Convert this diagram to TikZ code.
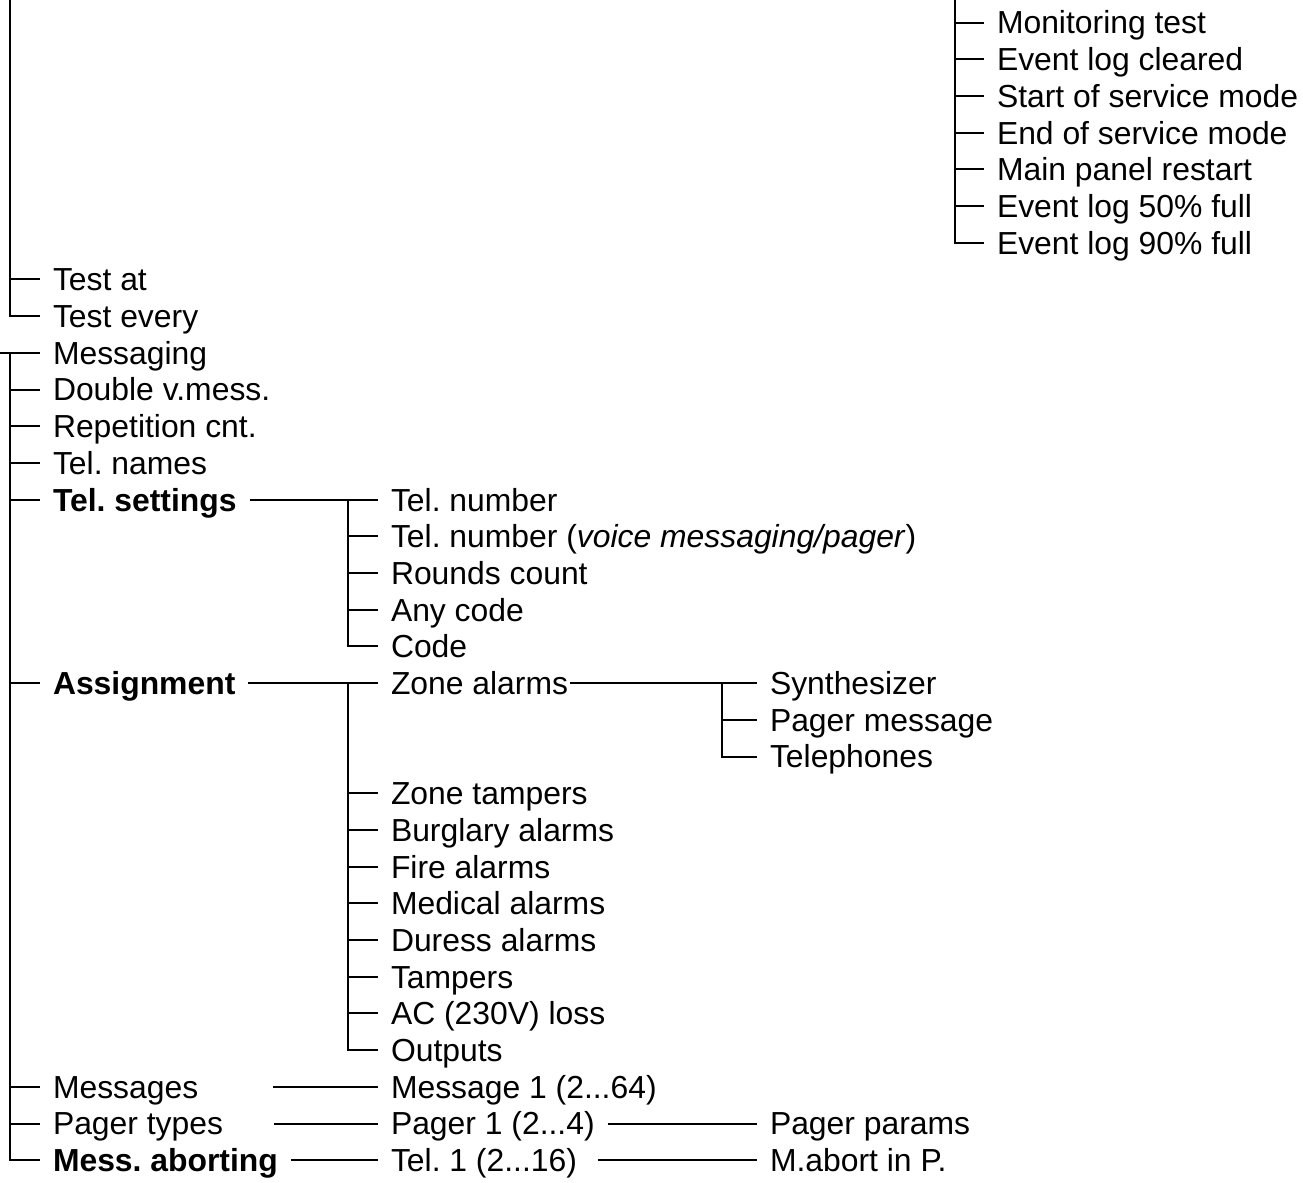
\documentclass[tikz,border=0pt]{standalone}
\usepackage{fontspec}
\setmainfont{Liberation Sans}
\frenchspacing

\tikzset{
  menu/.style={anchor=west, inner xsep=9pt, inner ysep=0pt, text height=17.1pt, text depth=0pt, font=\fontsize{23.9}{28}\selectfont},
  bmenu/.style={menu, font=\fontsize{23.9}{28}\selectfont\bfseries},
}

\begin{document}
\begin{tikzpicture}[x=0.75pt, y=-27.525pt, line width=1.5pt]
\useasboundingbox (0,-0.613) rectangle (1303,31.594);

% events (top right)
\coordinate (evtop) at (955,-0.613);
\node[menu] (ev0) at (984,0) {Monitoring test};
\node[menu] (ev1) at (984,1) {Event log cleared};
\node[menu] (ev2) at (984,2) {Start of service mode};
\node[menu] (ev3) at (984,3) {End of service mode};
\node[menu] (ev4) at (984,4) {Main panel restart};
\node[menu] (ev5) at (984,5) {Event log 50\% full};
\node[menu] (ev6) at (984,6) {Event log 90\% full};
\draw (evtop) |- (ev6.west);
\foreach \i in {0,...,5} \draw (evtop |- ev\i.west) -- (ev\i.west);

% test
\coordinate (testtop) at (10,-0.613);
\node[menu] (testat) at (40,7) {Test at};
\node[menu] (testevery) at (40,8) {Test every};
\draw (testtop) |- (testevery.west);
\draw (testtop |- testat.west) -- (testat.west);

% messaging
\coordinate (mainstart) at (0,9);
\coordinate (trunk) at (10,9);
\node[menu] (messaging) at (40,9) {Messaging};
\node[menu] (doublev) at (40,10) {Double v.mess.};
\node[menu] (repcnt) at (40,11) {Repetition cnt.};
\node[menu] (telnames) at (40,12) {Tel. names};
\node[bmenu] (telset) at (40,13) {Tel. settings};
\node[bmenu] (assign) at (40,18) {Assignment};
\node[menu] (messages) at (40,29) {Messages};
\node[menu] (pagertypes) at (40,30) {Pager types};
\node[bmenu] (messabort) at (40,31) {Mess. aborting};
\draw (mainstart) -- (messaging.west);
\draw (trunk) |- (messabort.west);
\foreach \n in {doublev,repcnt,telnames,telset,assign,messages,pagertypes}
  \draw (trunk |- \n.west) -- (\n.west);

% tel. settings
\coordinate (telsetj) at (348,13);
\node[menu] (telnum) at (378,13) {Tel. number};
\node[menu] (telvoice) at (378,14) {Tel. number (\textit{voice messaging/pager})};
\node[menu] (rounds) at (378,15) {Rounds count};
\node[menu] (anycode) at (378,16) {Any code};
\node[menu] (code) at (378,17) {Code};
\draw (telset.east) -- (telnum.west);
\draw (telsetj) |- (code.west);
\foreach \n in {telvoice,rounds,anycode} \draw (telsetj |- \n.west) -- (\n.west);

% assignment
\coordinate (assignj) at (348,18);
\node[menu] (zonealarm) at (378,18) {Zone alarms};
\node[menu] (zonetamp) at (378,21) {Zone tampers};
\node[menu] (burglary) at (378,22) {Burglary alarms};
\node[menu] (fire) at (378,23) {Fire alarms};
\node[menu] (medical) at (378,24) {Medical alarms};
\node[menu] (duress) at (378,25) {Duress alarms};
\node[menu] (tampers) at (378,26) {Tampers};
\node[menu] (acloss) at (378,27) {AC (230V) loss};
\node[menu] (outputs) at (378,28) {Outputs};
\draw (assign.east) -- (zonealarm.west);
\draw (assignj) |- (outputs.west);
\foreach \n in {zonetamp,burglary,fire,medical,duress,tampers,acloss}
  \draw (assignj |- \n.west) -- (\n.west);

% zone alarms
\coordinate (zonej) at (722,18);
\node[menu] (synth) at (757,18) {Synthesizer};
\node[menu] (pagermsg) at (757,19) {Pager message};
\node[menu] (phones) at (757,20) {Telephones};
\draw ([xshift=-8.25pt]zonealarm.east) -- (synth.west);
\draw (zonej) |- (phones.west);
\draw (zonej |- pagermsg.west) -- (pagermsg.west);

% messages, pagers, aborting
\node[menu] (msg1) at (378,29) {Message 1 (2...64)};
\node[menu] (pager1) at (378,30) {Pager 1 (2...4)};
\node[menu] (pagerpar) at (757,30) {Pager params};
\node[menu] (tel1) at (378,31) {Tel. 1 (2...16)};
\node[menu] (mabort) at (757,31) {M.abort in P.};
\draw ([xshift=46.5pt]messages.east) -- (msg1.west);
\draw ([xshift=28.5pt]pagertypes.east) -- (pager1.west);
\draw (pager1.east) -- (pagerpar.west);
\draw (messabort.east) -- (tel1.west);
\draw ([xshift=6pt]tel1.east) -- (mabort.west);

\end{tikzpicture}
\end{document}
